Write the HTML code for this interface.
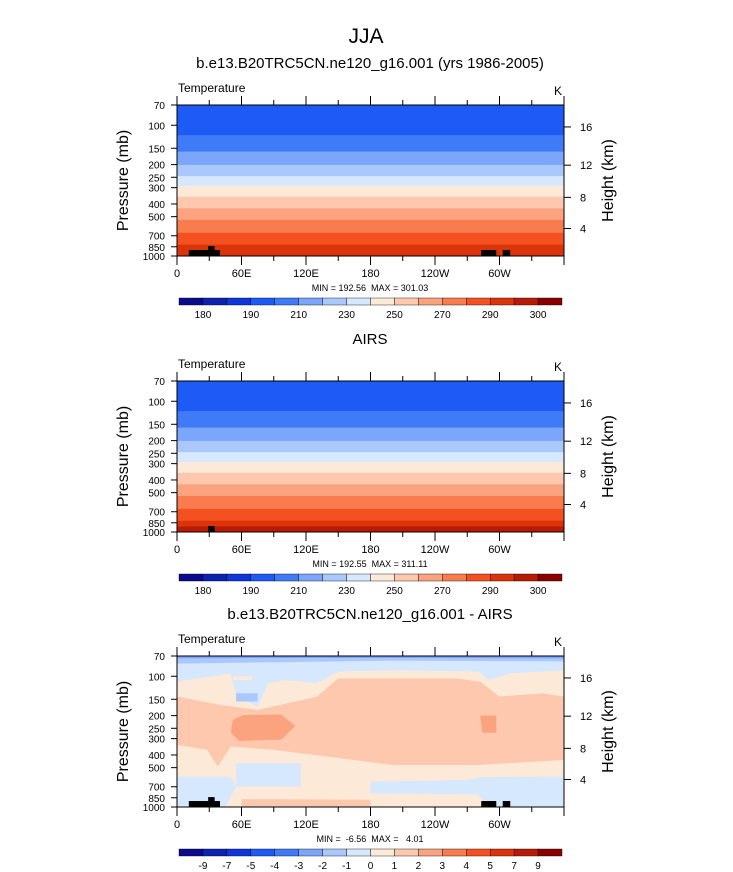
<!DOCTYPE html>
<html><head><meta charset="utf-8">
<style>
html,body{margin:0;padding:0;background:#fff;}
svg{display:block;font-family:"Liberation Sans",sans-serif;}
text{white-space:pre;}
</style></head>
<body>
<svg id="fig" width="733" height="872" viewBox="0 0 733 872" xmlns="http://www.w3.org/2000/svg">
<text x="366" y="43" font-size="21" text-anchor="middle">JJA</text>
</svg>
<script>
// ---------- data ----------
const pressureTicks = [70,100,150,200,250,300,400,500,700,850,1000];
const heightTicks = [4,8,12,16];
const heightTickPressure = [616, 356, 202, 103];
const lonTicks = [0,60,120,180,240,300];
const lonTickLabels = ["0","60E","120E","180","120W","60W"];
const palette = ["#0a0a8c","#0b23b0","#1035d8","#1e5af5","#3f7af7","#7ca6fb","#abc8fd","#d6e8fe","#fde9d8","#fdc8ae","#fba27e","#f97c4e","#f5501f","#dc340a","#b81b05","#8a0000"];
const tempBarLabels = ["","180","","190","","210","","230","","250","","270","","290","","300"];
const diffBarLabels = ["","-9","-7","-5","-4","-3","-2","-1","0","1","2","3","4","5","7","9"];
const modelBandP = [70,119,159,201,245,291,352,432,530,665,820,908,1000];
const modelBandC = [3,4,5,6,7,8,9,10,11,12,13,13];
const airsBandP = [70,119,159,201,245,291,352,432,530,665,820,908,1000];
const airsBandC = [3,4,5,6,7,8,9,10,11,12,13,14];
// difference regions: [colorIndex, [lon,p]...]
const diffRegions = [
 [9, [[0,143],[40,165],[75,181],[130,143],[150,104],[260,104],[282,110],[300,143],[340,135],[360,143],[360,437],[280,477],[200,477],[140,412],[90,366],[50,345],[38,491],[28,366],[0,335]]],
 [10,[[52,215],[62,198],[97,196],[110,240],[97,305],[58,312],[50,270]]],
 [10,[[282,200],[297,200],[297,270],[284,270]]],
 [7, [[0,70],[360,70],[360,90],[310,95],[290,107],[280,92],[200,90],[150,92],[130,113],[100,107],[85,113],[75,171],[55,143],[50,95],[0,110]]],
 [6, [[0,70],[360,70],[360,77],[200,76],[100,78],[0,80]]],
 [5, [[0,70],[360,70],[360,73],[240,72.5],[120,72.5],[0,73]]],
 [8, [[52,100],[70,100],[70,107],[52,107]]],
 [6, [[55,135],[75,135],[75,156],[55,156]]],
 [7, [[55,463],[115,463],[115,697],[55,697]]],
 [7, [[0,586],[50,586],[55,700],[45,1000],[0,1000]]],
 [7, [[180,640],[270,620],[285,590],[360,586],[360,1000],[290,1000],[280,800],[180,790]]],
 [9, [[60,870],[180,880],[180,1000],[60,1000]]]
];
const topoModel = [[11,900,40,1000],[29,840,35,1000],[283,900,297,1000],[303,900,310,1000]];
const topoAirs = [[29,900,35,1000]];
const panels = [
 {title:"b.e13.B20TRC5CN.ne120_g16.001 (yrs 1986-2005)", top:105, stats:"MIN = 192.56  MAX = 301.03", kind:"model"},
 {title:"AIRS", top:381, stats:"MIN = 192.55  MAX = 311.11", kind:"airs"},
 {title:"b.e13.B20TRC5CN.ne120_g16.001 - AIRS", top:656, stats:"MIN =  -6.56  MAX =   4.01", kind:"diff"}
];
// ---------- drawing ----------
const NS="http://www.w3.org/2000/svg";
const svg=document.getElementById('fig');
const X0=177,X1=564,H=151;
function xS(lon){return X0+lon/360*(X1-X0);}
function yS(p,top){return top+Math.log(p/70)/Math.log(1000/70)*H;}
function mk(tag,attrs,parent){const e=document.createElementNS(NS,tag);for(const k in attrs)e.setAttribute(k,attrs[k]);(parent||svg).appendChild(e);return e;}
function txt(x,y,s,size,anchor,parent){const t=mk('text',{x:x,y:y,'font-size':size,'text-anchor':anchor||'start'},parent);t.textContent=s;return t;}

panels.forEach((pn,pi)=>{
 const g=mk('g',{});
 
 
 const top=pn.top;
 const tt=txt(370,top-37,pn.title,15,'middle',g);
 
 
 const tl=txt(178,top-13,"Temperature",12,'start',g);
 
 
 const ul=txt(562,top-10,"K",12,'end',g);
 
 
 const clip=mk('clipPath',{id:'c'+pi},g);
 mk('rect',{x:X0,y:top,width:X1-X0,height:H},clip);
 const fg=mk('g',{'clip-path':'url(#c'+pi+')'},g);
 if(pn.kind!=='diff'){
  const P=pn.kind==='model'?modelBandP:airsBandP, C=pn.kind==='model'?modelBandC:airsBandC;
  for(let i=0;i<C.length;i++){
   const r=mk('rect',{x:X0,y:yS(P[i],top),width:X1-X0,height:yS(P[i+1],top)-yS(P[i],top)+0.5,fill:palette[C[i]]},fg);
   
   
  }
 } else {
  const bg=mk('rect',{x:X0,y:top,width:X1-X0,height:H,fill:palette[8]},fg);
  
  
  diffRegions.forEach(rg=>{
   const pts=rg[1].map(q=>xS(q[0])+','+yS(q[1],top)).join(' ');
   const pl=mk('polygon',{points:pts,fill:palette[rg[0]]},fg);
   
   
  });
 }
 const topo=pn.kind==='airs'?topoAirs:topoModel;
 topo.forEach(t=>{
  const r=mk('rect',{x:xS(t[0]),y:yS(t[1],top),width:xS(t[2])-xS(t[0]),height:yS(t[3],top)-yS(t[1],top),fill:'#000'},fg);
  
  
 });
 mk('rect',{x:X0,y:top,width:X1-X0,height:H,fill:'none',stroke:'#000','stroke-width':1},g);
 for(let lon=0;lon<=360;lon+=30){
  const major=lon%60===0, L=major?9:5;
  mk('line',{x1:xS(lon),x2:xS(lon),y1:top,y2:top-L,stroke:'#000'},g);
  mk('line',{x1:xS(lon),x2:xS(lon),y1:top+H,y2:top+H+L,stroke:'#000'},g);
 }
 lonTicks.forEach((l,i)=>{const t=txt(xS(l),top+H+21,lonTickLabels[i],11,'middle',g);
  });
 pressureTicks.forEach(p=>{
  const y=yS(p,top);
  mk('line',{x1:X0-6,x2:X0,y1:y,y2:y,stroke:'#000'},g);
  const t=txt(X0-12,y+4,String(p),10,'end',g);
  
 });
 heightTicks.forEach((h,i)=>{
  const y=yS(heightTickPressure[i],top);
  mk('line',{x1:X1,x2:X1+7,y1:y,y2:y,stroke:'#000'},g);
  const t=txt(X1+16,y+4,String(h),11,'start',g);
  
 });
 const yl=txt(0,0,"Pressure (mb)",16,'middle',g);
 yl.setAttribute('transform','translate(128,'+(top+H/2)+') rotate(-90)');
 
 const hl=txt(0,0,"Height (km)",16,'middle',g);
 hl.setAttribute('transform','translate(613,'+(top+H/2)+') rotate(-90)');
 
 const st=txt(370,top+H+35,pn.stats,9,'middle',g);
 
 const cb=mk('g',{},g);
 
 
 const cy=top+H+42, bw=(562-179)/16;
 const labels=pn.kind==='diff'?diffBarLabels:tempBarLabels;
 palette.forEach((c,i)=>{
  mk('rect',{x:179+i*bw,y:cy,width:bw,height:7,fill:c,stroke:'#000','stroke-width':0.4},cb);
 });
 labels.forEach((s,i)=>{ if(s){const t=txt(179+i*bw,cy+20,s,10,'middle',cb);
  }});
});
</script>
</body></html>
